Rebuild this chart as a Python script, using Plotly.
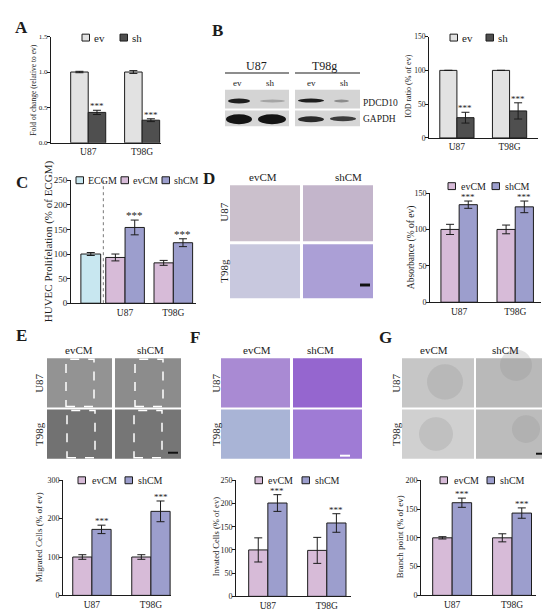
import plotly.graph_objects as go

W, H = 550, 615
SERIF = "Liberation Serif, Times New Roman, serif"
INK = "#1c1c1c"

EV_GREY = "#e2e2e2"
SH_GREY = "#4f4f4f"
ECGM_COL = "#c8e7f0"
EVCM_COL = "#d7bbd8"
SHCM_COL = "#9c9ecd"

# ---- data ----
cell_lines = ["U87", "T98G"]

# A: PDCD10 mRNA, fold of change relative to ev
a_ev = [1.0, 1.0]
a_ev_err = [0.01, 0.02]
a_sh = [0.43, 0.32]
a_sh_err = [0.03, 0.02]

# B: western blot IOD ratio (% of ev)
b_ev = [100, 100]
b_ev_err = [0, 0]
b_sh = [30, 40]
b_sh_err = [8, 12]

# C: HUVEC proliferation (% of ECGM)
c_ecgm = [100]
c_ecgm_err = [3]
c_ev = [93, 82]
c_ev_err = [7, 5]
c_sh = [154, 123]
c_sh_err = [15, 8]

# D: absorbance (% of ev)
d_ev = [100, 100]
d_ev_err = [7, 6]
d_sh = [134, 131]
d_sh_err = [5, 8]

# E: migrated cells (% of ev)
e_ev = [100, 100]
e_ev_err = [6, 6]
e_sh = [172, 219]
e_sh_err = [11, 27]

# F: invaded cells (% of ev)
f_ev = [100, 99]
f_ev_err = [26, 28]
f_sh = [201, 158]
f_sh_err = [18, 20]

# G: branch points (% of ev)
g_ev = [100, 100]
g_ev_err = [2, 7]
g_sh = [161, 143]
g_sh_err = [8, 9]

BARGAP = 0.35


def xp(v):
    return v / W


def yp(v):
    return 1 - v / H


def ax(n):
    return "" if n == 1 else str(n)


fig = go.Figure()
annotations = []
shapes = []


def txt(x, y, text, size, angle=0, bold=False, xanchor="center", color=INK):
    annotations.append(dict(
        x=xp(x), y=yp(y), xref="paper", yref="paper", text=f"<b>{text}</b>" if bold else text,
        showarrow=False, textangle=angle, xanchor=xanchor, yanchor="middle",
        font=dict(family=SERIF, size=size, color=color),
    ))


def rect(x0, y0, x1, y1, fill, line=None, kind="rect", opacity=1):
    shapes.append(dict(
        type=kind, xref="paper", yref="paper",
        x0=xp(x0), x1=xp(x1), y0=yp(y1), y1=yp(y0),
        fillcolor=fill, opacity=opacity,
        line=dict(color=line or fill, width=1 if line else 0),
        layer="above",
    ))


def setup_axes(n, xdom, ydom, xr, yr, dtick, fmt, cats, tick_size=8):
    fig.layout[f"xaxis{ax(n)}"] = dict(
        domain=[xp(xdom[0]), xp(xdom[1])], range=list(xr), anchor=f"y{ax(n)}",
        type="category", categoryorder="array", categoryarray=cats,
        showline=True, linecolor=INK, linewidth=1, ticks="", showgrid=False,
        zeroline=False, tickfont=dict(family=SERIF, size=9.5, color=INK),
    )
    fig.layout[f"yaxis{ax(n)}"] = dict(
        domain=[yp(ydom[1]), yp(ydom[0])], range=list(yr), anchor=f"x{ax(n)}",
        dtick=dtick, tickformat=fmt, showline=True, linecolor=INK, linewidth=1,
        ticks="outside", ticklen=3, tickwidth=1, tickcolor=INK, showgrid=False,
        zeroline=False, ticklabelstandoff=-2,
        tickfont=dict(family=SERIF, size=tick_size, color=INK),
    )


def err(arr):
    return dict(type="data", array=arr, color=INK, thickness=1, width=4)


def bar(n, x, y, e, color, **kw):
    fig.add_trace(go.Bar(
        x=x, y=y, error_y=err(e), xaxis=f"x{ax(n)}", yaxis=f"y{ax(n)}",
        marker=dict(color=color, line=dict(color=INK, width=1)),
        showlegend=False, hoverinfo="skip", **kw,
    ))


def stars(n, values, errors, shift, size=9):
    for i, (v, e) in enumerate(zip(values, errors)):
        annotations.append(dict(
            x=i + shift, y=v + e, xref=f"x{ax(n)}", yref=f"y{ax(n)}", text="***",
            showarrow=False, yanchor="bottom", yshift=-3,
            font=dict(family=SERIF, size=size, color=INK),
        ))


def legend(items, yc, size=10):
    for bx, tx, label, color in items:
        rect(bx, yc - 3.5, bx + 7.5, yc + 3.5, color, line=INK)
        txt(tx, yc, label, size, xanchor="left")


def pair_panel(n, ev, ev_e, sh, sh_e, c1, c2):
    bar(n, cell_lines, ev, ev_e, c1)
    bar(n, cell_lines, sh, sh_e, c2)
    stars(n, sh, sh_e, (1 - BARGAP) / 4)


# ---------------- A ----------------
setup_axes(1, (43, 153), (24, 132), (-0.69, 1.35), (0, 1.5), 0.5, ".1f", cell_lines, 7)
pair_panel(1, a_ev, a_ev_err, a_sh, a_sh_err, EV_GREY, SH_GREY)
legend([(74, 84, "ev", EV_GREY), (112, 122, "sh", SH_GREY)], 25, 11)
txt(26, 78, "Fold of change (relative to ev)", 7.5, angle=-90)
txt(13, 15, "A", 17, bold=True)

# ---------------- B ----------------
setup_axes(2, (421, 530), (24, 127), (-0.53, 1.54), (0, 150), 50, None, cell_lines, 7.5)
pair_panel(2, b_ev, b_ev_err, b_sh, b_sh_err, EV_GREY, SH_GREY)
legend([(442, 452, "ev", EV_GREY), (478, 488, "sh", SH_GREY)], 25, 11)
txt(401, 75, "IOD ratio (% of ev)", 8, angle=-90)
txt(209, 18, "B", 17, bold=True)

# western blot
for bx0, bx1 in [(217, 281), (287, 352)]:
    rect(bx0, 78, bx1, 97, "#d4d4d4")
    rect(bx0, 99, bx1, 115, "#d6d6d6")
    shapes.append(dict(type="line", xref="paper", yref="paper", x0=xp(bx0), x1=xp(bx1),
                       y0=yp(61), y1=yp(61), line=dict(color=INK, width=1.2)))
bands = [
    (220, 87, 242, 92, "#1e1e1e"), (252, 88, 277, 91, "#a5a5a5"),
    (218, 103, 244, 113, "#141414"), (250, 103, 278, 113, "#141414"),
    (290, 87, 316, 91, "#1e1e1e"), (326, 88, 341, 91, "#8c8c8c"),
    (290, 105, 316, 111, "#2a2a2a"), (322, 105, 348, 110, "#3c3c3c"),
]
for x0, y0, x1, y1, c in bands:
    rect(x0, y0, x1, y1, c, kind="circle")
txt(249, 54, "U87", 12)
txt(316, 54, "T98g", 12)
for x, lab in [(230, "ev"), (262, "sh"), (303, "ev"), (336, "sh")]:
    txt(x, 71, lab, 9)
txt(353, 91, "PDCD10", 9.5, xanchor="left")
txt(353, 108, "GAPDH", 9.5, xanchor="left")

# ---------------- C ----------------
c_cats = [" ", "U87", "T98G"]
setup_axes(3, (63, 188), (170, 295), (-0.12, 2.47), (0, 250), 50, None, c_cats, 9)
bar(3, [" "], c_ecgm, c_ecgm_err, ECGM_COL, offset=0.085, width=0.41)
bar(3, cell_lines, c_ev, c_ev_err, EVCM_COL, offset=-0.4, width=0.4)
bar(3, cell_lines, c_sh, c_sh_err, SHCM_COL, offset=0.0, width=0.4)
for i, (v, e) in enumerate(zip(c_sh, c_sh_err)):
    annotations.append(dict(
        x=i + 1.2, y=v + e, xref="x3", yref="y3", text="***", showarrow=False,
        yanchor="bottom", yshift=-3, font=dict(family=SERIF, size=11, color=INK),
    ))
shapes.append(dict(type="line", xref="x3", yref="y3", x0=0.55, x1=0.55, y0=0, y1=250,
                   line=dict(color="#777777", width=1, dash="dot")))
legend([(68, 78, "ECGM", ECGM_COL), (113, 123, "evCM", EVCM_COL),
        (154, 164, "shCM", SHCM_COL)], 170, 10)
txt(40, 232, "HUVEC Prolifelation (% of ECGM)", 11, angle=-90)
txt(14, 172, "C", 17, bold=True)

# ---------------- D ----------------
setup_axes(4, (422, 533), (183, 294), (-0.52, 1.46), (0, 150), 50, None, cell_lines, 8)
pair_panel(4, d_ev, d_ev_err, d_sh, d_sh_err, EVCM_COL, SHCM_COL)
legend([(440, 451, "evCM", EVCM_COL), (484, 495, "shCM", SHCM_COL)], 176, 10)
txt(403, 238, "Absorbance (% of ev)", 9.5, angle=-90)
txt(201, 168, "D", 17, bold=True)

rect(222, 175, 292, 232, "#cbc0cc")
rect(295, 175, 365, 232, "#c3b5cb")
rect(222, 235, 292, 290, "#c8c8de")
rect(295, 235, 365, 290, "#ab9fd6")
rect(352, 275, 362, 278, "#111111")
txt(255, 167, "evCM", 11)
txt(340, 167, "shCM", 11)
txt(216, 203, "U87", 11, angle=-90)
txt(216, 262, "T98g", 11, angle=-90)

# ---------------- E ----------------
setup_axes(5, (55, 163), (475, 592), (-0.49, 1.34), (0, 300), 100, None, cell_lines, 8)
pair_panel(5, e_ev, e_ev_err, e_sh, e_sh_err, EVCM_COL, SHCM_COL)
legend([(70, 82, "evCM", EVCM_COL), (117, 128, "shCM", SHCM_COL)], 475, 10)
txt(31, 533, "Migrated Cells (% of ev)", 9, angle=-90)
txt(13, 328, "E", 17, bold=True)

rect(39, 351, 104, 401, "#939393")
rect(107, 351, 173, 401, "#8c8c8c")
rect(39, 403, 104, 453, "#727272")
rect(107, 403, 173, 453, "#767676")
for x0, y0, x1, y1 in [(58, 351, 86, 401), (127, 351, 155, 401),
                       (59, 403, 87, 453), (126, 403, 154, 453)]:
    shapes.append(dict(type="rect", xref="paper", yref="paper", x0=xp(x0), x1=xp(x1),
                       y0=yp(y1 - 1), y1=yp(y0 + 1),
                       line=dict(color="white", width=1.5, dash="dash"), layer="above"))
rect(160, 446, 170, 448, "#111111")
txt(71, 343, "evCM", 11)
txt(142, 343, "shCM", 11)
txt(31, 377, "U87", 11, angle=-90)
txt(31, 428, "T98g", 11, angle=-90)

# ---------------- F ----------------
setup_axes(6, (228, 343), (475, 593), (-0.54, 1.41), (0, 250), 50, None, cell_lines, 8)
pair_panel(6, f_ev, f_ev_err, f_sh, f_sh_err, EVCM_COL, SHCM_COL)
legend([(247, 258, "evCM", EVCM_COL), (294, 305, "shCM", SHCM_COL)], 475, 10)
txt(208, 533, "Invated Cells (% of ev)", 8.5, angle=-90)
txt(187, 330, "F", 17, bold=True)

rect(213, 351, 282, 401, "#a98ad3")
rect(285, 351, 354, 401, "#9566cf")
rect(213, 403, 282, 453, "#a9b4d6")
rect(285, 403, 354, 453, "#9f7bd5")
rect(332, 449, 342, 451, "#ffffff")
txt(249, 343, "evCM", 11)
txt(312, 343, "shCM", 11)
txt(208, 377, "U87", 11, angle=-90)
txt(208, 428, "T98g", 11, angle=-90)

# ---------------- G ----------------
setup_axes(7, (413, 528), (475, 592), (-0.52, 1.40), (0, 200), 50, None, cell_lines, 8)
pair_panel(7, g_ev, g_ev_err, g_sh, g_sh_err, EVCM_COL, SHCM_COL)
legend([(432, 444, "evCM", EVCM_COL), (479, 490, "shCM", SHCM_COL)], 475, 10)
txt(392, 533, "Branch point (% of ev)", 9, angle=-90)
txt(377, 330, "G", 17, bold=True)

rect(394, 351, 466, 401, "#c6c6c6")
rect(468, 351, 540, 401, "#b9b9b9")
rect(394, 403, 466, 453, "#d0d0d0")
rect(468, 403, 540, 453, "#bcbcbc")
for cx, cy, r in [(437, 375, 18), (508, 358, 16), (428, 428, 17), (518, 423, 14)]:
    rect(cx - r, cy - r, cx + r, cy + r, "#8f8f8f", kind="circle", opacity=0.25)
rect(528, 447, 538, 449, "#111111")
txt(426, 343, "evCM", 11)
txt(497, 343, "shCM", 11)
txt(388, 377, "U87", 11, angle=-90)
txt(388, 428, "T98g", 11, angle=-90)

fig.update_layout(
    width=W, height=H, margin=dict(l=0, r=0, t=0, b=0),
    paper_bgcolor="white", plot_bgcolor="white",
    barmode="group", bargap=BARGAP, bargroupgap=0,
    showlegend=False, annotations=annotations, shapes=shapes,
    font=dict(family=SERIF, color=INK),
)

fig.write_html("out.html")
